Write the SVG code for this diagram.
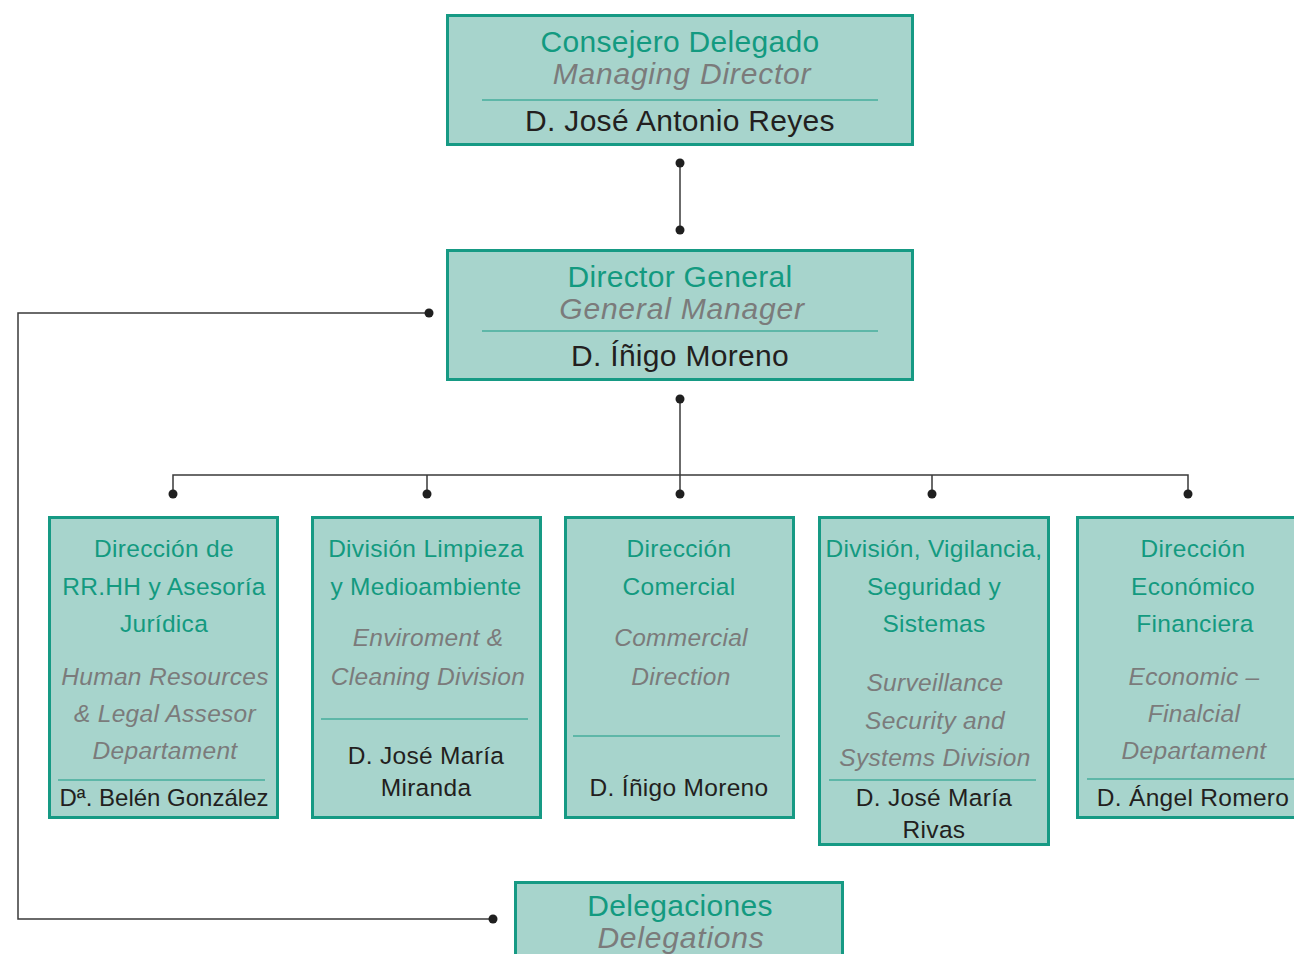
<svg xmlns="http://www.w3.org/2000/svg" width="1294" height="954" viewBox="0 0 1294 954">
<style>
.box{fill:#a7d4cc;stroke:#169a84;stroke-width:3}
.div{stroke:#169a84;stroke-width:1.2}
text{font-family:"Liberation Sans",Arial,sans-serif;text-anchor:middle}
.g{fill:#139a80}
.i{fill:#7b7b7b;font-style:italic}
.n{fill:#231f20}
.big{font-size:30px;letter-spacing:0.3px}
.big.i{letter-spacing:0.8px}
.sm{font-size:24.5px;letter-spacing:0.3px}
.tight{letter-spacing:0px;font-size:24px}
.con{fill:none;stroke:#3a3a3a;stroke-width:1.5}
.dot{fill:#1f1f1f}
</style>
<rect width="1294" height="954" fill="#ffffff"/>
<g id="connectors">
<path class="con" d="M680 163V230"/>
<path class="con" d="M429 313H18V919H493"/>
<path class="con" d="M680 399V494"/>
<path class="con" d="M173 494V475H1188V494M427 475V494M932 475V494"/>
<circle class="dot" cx="680" cy="163" r="4.5"/>
<circle class="dot" cx="680" cy="230" r="4.5"/>
<circle class="dot" cx="429" cy="313" r="4.5"/>
<circle class="dot" cx="493" cy="919" r="4.5"/>
<circle class="dot" cx="680" cy="399" r="4.5"/>
<circle class="dot" cx="173" cy="494" r="4.5"/>
<circle class="dot" cx="427" cy="494" r="4.5"/>
<circle class="dot" cx="680" cy="494" r="4.5"/>
<circle class="dot" cx="932" cy="494" r="4.5"/>
<circle class="dot" cx="1188" cy="494" r="4.5"/>
</g>
<g id="consejero">
<rect class="box" x="447.5" y="15.5" width="465" height="129"/>
<text class="g big" x="680" y="52">Consejero Delegado</text>
<text class="i big" x="682" y="84">Managing Director</text>
<line class="div" x1="482" y1="100" x2="878" y2="100"/>
<text class="n big" x="680" y="131">D. José Antonio Reyes</text>
</g>
<g id="director">
<rect class="box" x="447.5" y="250.5" width="465" height="129"/>
<text class="g big" x="680" y="287">Director General</text>
<text class="i big" x="682" y="319">General Manager</text>
<line class="div" x1="482" y1="331" x2="878" y2="331"/>
<text class="n big" x="680" y="366">D. Íñigo Moreno</text>
</g>
<g id="rrhh">
<rect class="box" x="49.5" y="517.5" width="228" height="300"/>
<text class="g sm" x="164" y="557">Dirección de</text>
<text class="g sm" x="164" y="595">RR.HH y Asesoría</text>
<text class="g sm" x="164" y="632">Jurídica</text>
<text class="i sm" x="165" y="685">Human Resources</text>
<text class="i sm" x="165" y="722">&amp; Legal Assesor</text>
<text class="i sm" x="165" y="759">Departament</text>
<line class="div" x1="58" y1="780" x2="265" y2="780"/>
<text class="n sm tight" x="164" y="806">Dª. Belén González</text>
</g>
<g id="limpieza">
<rect class="box" x="312.5" y="517.5" width="228" height="300"/>
<text class="g sm" x="426" y="557">División Limpieza</text>
<text class="g sm" x="426" y="595">y Medioambiente</text>
<text class="i sm" x="428" y="646">Enviroment &amp;</text>
<text class="i sm" x="428" y="685">Cleaning Division</text>
<line class="div" x1="321" y1="719" x2="528" y2="719"/>
<text class="n sm" x="426" y="764">D. José María</text>
<text class="n sm" x="426" y="796">Miranda</text>
</g>
<g id="comercial">
<rect class="box" x="565.5" y="517.5" width="228" height="300"/>
<text class="g sm" x="679" y="557">Dirección</text>
<text class="g sm" x="679" y="595">Comercial</text>
<text class="i sm" x="681" y="646">Commercial</text>
<text class="i sm" x="681" y="685">Direction</text>
<line class="div" x1="573" y1="736" x2="780" y2="736"/>
<text class="n sm" x="679" y="796">D. Íñigo Moreno</text>
</g>
<g id="vigilancia">
<rect class="box" x="819.5" y="517.5" width="229" height="327"/>
<text class="g sm" x="934" y="557">División, Vigilancia,</text>
<text class="g sm" x="934" y="595">Seguridad y</text>
<text class="g sm" x="934" y="632">Sistemas</text>
<text class="i sm" x="935" y="691">Surveillance</text>
<text class="i sm" x="935" y="729">Security and</text>
<text class="i sm" x="935" y="766">Systems Division</text>
<line class="div" x1="829" y1="780" x2="1036" y2="780"/>
<text class="n sm" x="934" y="806">D. José María</text>
<text class="n sm" x="934" y="838">Rivas</text>
</g>
<g id="economico">
<rect class="box" x="1077.5" y="517.5" width="230" height="300"/>
<text class="g sm" x="1193" y="557">Dirección</text>
<text class="g sm" x="1193" y="595">Económico</text>
<text class="g sm" x="1195" y="632">Financiera</text>
<text class="i sm" x="1194" y="685">Economic –</text>
<text class="i sm" x="1194" y="722">Finalcial</text>
<text class="i sm" x="1194" y="759">Departament</text>
<line class="div" x1="1087" y1="779" x2="1294" y2="779"/>
<text class="n sm" x="1193" y="806">D. Ángel Romero</text>
</g>
<g id="delegaciones">
<rect class="box" x="515.5" y="882.5" width="327" height="80"/>
<text class="g big" x="680" y="916">Delegaciones</text>
<text class="i big" x="681" y="948">Delegations</text>
</g>
</svg>
